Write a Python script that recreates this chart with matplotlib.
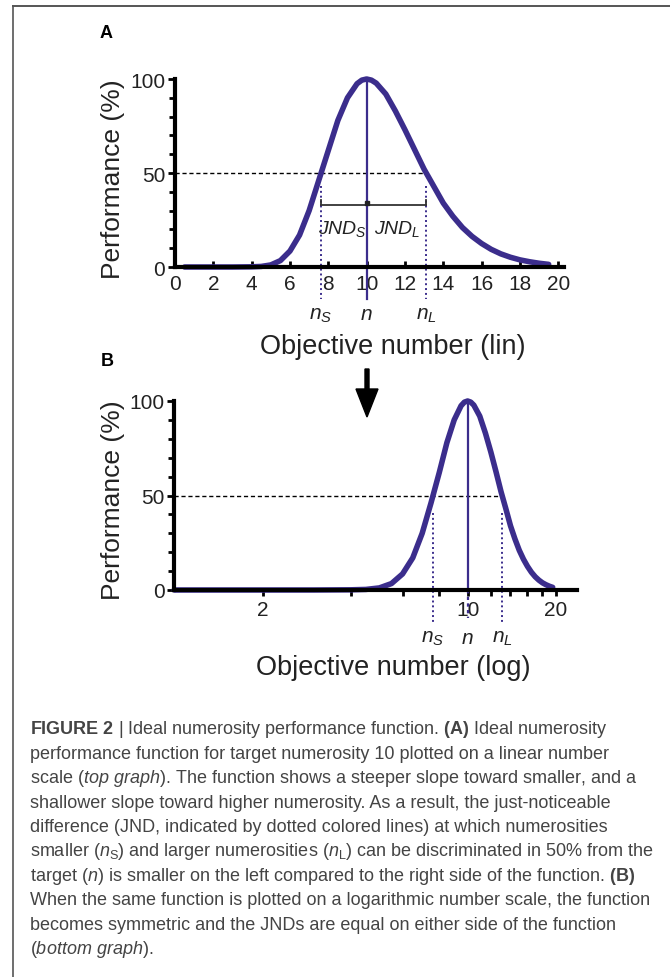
import matplotlib
matplotlib.use("Agg")
import matplotlib.pyplot as plt
import matplotlib.patches as mpatches
from matplotlib.lines import Line2D
from matplotlib.ticker import FixedLocator, NullFormatter

plt.rcParams["font.family"] = ["Liberation Sans", "DejaVu Sans"]
plt.rcParams["mathtext.fontset"] = "custom"
plt.rcParams["mathtext.rm"] = "Liberation Sans"
plt.rcParams["mathtext.it"] = "Liberation Sans:italic"
plt.rcParams["mathtext.bf"] = "Liberation Sans:bold"

# ── data ─────────────────────────────────────────────────────
numerosity = [0.5, 1, 2, 3, 4, 4.5, 5, 5.5, 6, 6.5, 7, 7.5, 8, 8.5, 9, 9.5, 9.75,
              10, 10.25, 10.5, 11, 11.5, 12, 12.5, 13, 13.5, 14, 14.5, 15, 15.5,
              16, 16.5, 17, 17.5, 18, 18.5, 19, 19.5]
performance = [0, 0, 0, 0, 0.1, 0.3, 1.1, 3.4, 8.5, 17, 30, 46, 62, 78, 90, 97.5, 99.4,
               100, 99.4, 97.8, 92, 83, 73, 62.5, 52, 43, 34, 27, 21, 16.3,
               12.5, 9.4, 7, 5.2, 3.8, 2.8, 2, 1.4]
target_n = 10
n_small = 7.6
n_large = 13.1
jnd_level = 33
lin_ticks = [0, 2, 4, 6, 8, 10, 12, 14, 16, 18, 20]
log_ticks = [2, 10, 20]
log_minor = [4, 6, 8, 12, 14, 16, 18]
y_ticks = [0, 50, 100]

NAVY = "#3b2d8c"
W, H = 670, 978


def fx(px):
    return px / W


def fy(py):
    return 1 - py / H


fig = plt.figure(figsize=(W / 100, H / 100), dpi=100)
fig.patch.set_facecolor("white")

# frame lines (top and left)
fig.add_artist(Line2D([fx(13), 1], [fy(6.5), fy(6.5)], color="#555555", lw=1.4,
                      transform=fig.transFigure))
fig.add_artist(Line2D([fx(13), fx(13)], [fy(6.5), 0], color="#555555", lw=1.2,
                      transform=fig.transFigure))


def style_axes(ax):
    for s in ["top", "right"]:
        ax.spines[s].set_visible(False)
    for s in ["left", "bottom"]:
        ax.spines[s].set_linewidth(3)
        ax.spines[s].set_zorder(5)
    ax.set_ylim(0, 100)
    ax.set_yticks(y_ticks)
    ax.yaxis.set_minor_locator(FixedLocator(range(10, 100, 10)))
    ax.tick_params(axis="y", which="major", direction="out", length=5, width=2,
                   labelsize=15, pad=2, labelcolor="#222222")
    ax.tick_params(axis="y", which="minor", direction="out", length=4, width=2)
    ax.patch.set_alpha(0)


# ── panel A: linear scale ────────────────────────────────────
ax_a = fig.add_axes([fx(175), fy(268), 389 / W, 188 / H])
style_axes(ax_a)
ax_a.set_xlim(0, 20.3)
ax_a.set_xticks(lin_ticks)
ax_a.tick_params(axis="x", direction="in", length=4, width=2, labelsize=15,
                 pad=5, labelcolor="#222222")

ax_a.plot(numerosity, performance, color=NAVY, lw=4, clip_on=False,
          solid_capstyle="round", solid_joinstyle="round", zorder=4)
ax_a.plot([0, n_large], [50, 50], color="black", lw=1, ls=(0, (3, 2)), zorder=3)
ax_a.plot([target_n, target_n], [100, -17], color=NAVY, lw=1.6, clip_on=False, zorder=3)
for xv in [n_small, n_large]:
    ax_a.plot([xv, xv], [43, -17], color=NAVY, lw=1.4, ls=(0, (1, 1.5)),
              clip_on=False, zorder=3)
ax_a.plot([n_small, n_large], [jnd_level, jnd_level], color="#333333", lw=1.3, zorder=3)
for xv in [n_small, n_large]:
    ax_a.plot([xv, xv], [jnd_level, jnd_level + 2.5], color="#333333", lw=1.3, zorder=3)
ax_a.plot([target_n], [jnd_level + 1], marker="s", ms=3, color="#222222", zorder=4)
ax_a.text(8.72, 21, r"$JND_S$", ha="center", va="center", fontsize=14, color="#222222")
ax_a.text(11.6, 21, r"$JND_L$", ha="center", va="center", fontsize=14, color="#222222")
for xv, lab in [(n_small, r"$n_S$"), (target_n, r"$n$"), (n_large, r"$n_L$")]:
    ax_a.text(xv, -25, lab, ha="center", va="center", fontsize=15, color="#222222",
              clip_on=False)

# ── panel B: log scale ───────────────────────────────────────
ax_b = fig.add_axes([fx(174.3), fy(591), (577 - 174.3) / W, 189 / H])
style_axes(ax_b)
ax_b.set_xscale("log")
ax_b.set_xlim(1, 23.6)
ax_b.xaxis.set_major_locator(FixedLocator(log_ticks))
ax_b.set_xticklabels([str(t) for t in log_ticks])
ax_b.xaxis.set_minor_locator(FixedLocator(log_minor))
ax_b.xaxis.set_minor_formatter(NullFormatter())
ax_b.tick_params(axis="x", which="major", direction="out", length=4, width=2,
                 labelsize=15, pad=3, labelcolor="#222222")
ax_b.tick_params(axis="x", which="minor", direction="out", length=4, width=2)

# only the part of the curve inside the log axis range
log_pts = [(x, p) for x, p in zip(numerosity, performance) if x >= 1]
ax_b.plot([x for x, _ in log_pts], [p for _, p in log_pts], color=NAVY, lw=4,
          clip_on=False, solid_capstyle="round", solid_joinstyle="round", zorder=4)
ax_b.plot([1, n_large], [50, 50], color="black", lw=1, ls=(0, (3, 2)), zorder=3)
ax_b.plot([target_n, target_n], [100, 0], color=NAVY, lw=1.6, zorder=3)
ax_b.plot([target_n, target_n], [0, -15], color=NAVY, lw=1.6, ls=(0, (1.5, 1.5)),
          clip_on=False, zorder=3)
for xv in [n_small, n_large]:
    ax_b.plot([xv, xv], [41, -17], color=NAVY, lw=1.4, ls=(0, (1, 1.5)),
              clip_on=False, zorder=3)
for xv, lab in [(n_small, r"$n_S$"), (target_n, r"$n$"), (n_large, r"$n_L$")]:
    ax_b.text(xv, -25, lab, ha="center", va="center", fontsize=15, color="#222222",
              clip_on=False)

# ── labels, panel letters, arrow ─────────────────────────────
fig.text(fx(106), fy(33), "A", fontsize=13, fontweight="bold", ha="center", va="center")
fig.text(fx(107), fy(362), "B", fontsize=13, fontweight="bold", ha="center", va="center")
fig.text(fx(393), fy(347), "Objective number (lin)", fontsize=19.5, ha="center",
         va="center", color="#222222")
fig.text(fx(393), fy(668), "Objective number (log)", fontsize=19.5, ha="center",
         va="center", color="#222222")
fig.text(fx(113), fy(179), "Performance (%)", fontsize=19, rotation=90, ha="center",
         va="center", color="#222222")
fig.text(fx(113), fy(500), "Performance (%)", fontsize=19, rotation=90, ha="center",
         va="center", color="#222222")

fig.add_artist(mpatches.FancyArrow(fx(367), fy(370), 0, -(48 / H), width=4 / W,
                                   head_width=22 / W, head_length=28 / H,
                                   length_includes_head=True, color="black",
                                   transform=fig.transFigure))

# ── caption ──────────────────────────────────────────────────
caption = [
    r"$\mathbf{FIGURE\ 2}$ | Ideal numerosity performance function. $\mathbf{(A)}$ Ideal numerosity",
    r"performance function for target numerosity 10 plotted on a linear number",
    r"scale ($\mathit{top\ graph}$). The function shows a steeper slope toward smaller, and a",
    r"shallower slope toward higher numerosity. As a result, the just-noticeable",
    r"difference (JND, indicated by dotted colored lines) at which numerosities",
    r"smaller ($\mathit{n}_\mathrm{S}$) and larger numerosities ($\mathit{n}_\mathrm{L}$) can be discriminated in 50% from the",
    r"target ($\mathit{n}$) is smaller on the left compared to the right side of the function. $\mathbf{(B)}$",
    r"When the same function is plotted on a logarithmic number scale, the function",
    r"becomes symmetric and the JNDs are equal on either side of the function",
    r"($\mathit{bottom\ graph}$).",
]
for i, line in enumerate(caption):
    fig.text(fx(30), fy(730 + i * 24.4), line, fontsize=13, ha="left", va="center",
             color="#444444")

fig.savefig("out.png", dpi=100, facecolor="white")
